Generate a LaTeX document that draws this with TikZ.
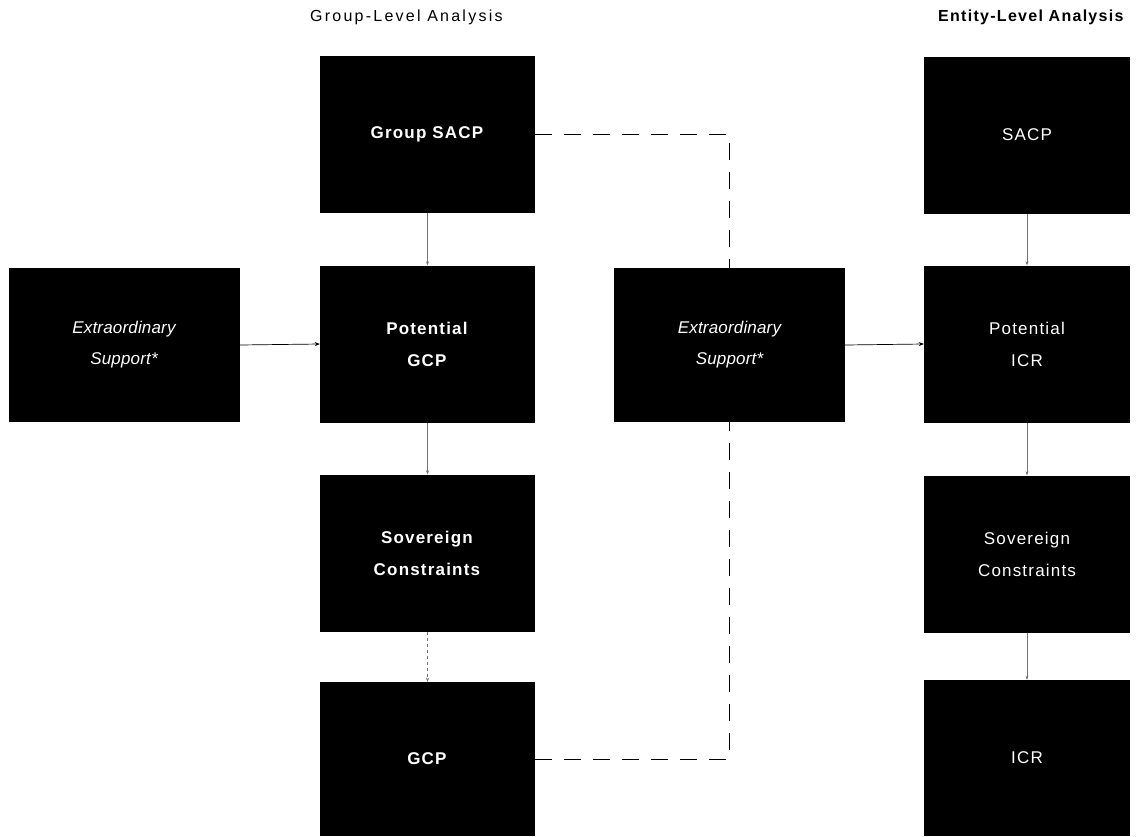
\documentclass[tikz,border=0pt]{standalone}
\usepackage{fontspec}
\setmainfont{Liberation Sans}
\newfontfamily\boxfont[LetterSpace=7]{Liberation Sans}
\newfontfamily\esfont[LetterSpace=1]{Liberation Sans}
\newfontfamily\hdrfont[LetterSpace=14]{Liberation Sans}
\newfontfamily\hdrbfont[LetterSpace=8]{Liberation Sans}
\usetikzlibrary{arrows.meta}
\begin{document}
\begin{tikzpicture}[x=1pt,y=-1pt,
  box/.style={fill=black,draw=none,text=white,inner sep=0pt,align=center,font=\boxfont\fontsize{17}{32}\selectfont},
  lbox/.style={box,minimum width=215pt,minimum height=157pt},
  rbox/.style={box,minimum width=206pt,minimum height=157pt},
  esbox/.style={box,minimum width=231pt,minimum height=154pt,font=\esfont\fontsize{17}{31}\selectfont\itshape},
  hdr/.style={font=\hdrfont\fontsize{16}{18}\selectfont,anchor=west,inner sep=0pt},
  conn/.style={line width=0.7pt,-{Stealth[length=5pt,width=4pt]}},
  dconn/.style={line width=0.7pt,dash pattern=on 17pt off 12pt},
  vconn/.style={line width=0.5pt,black!55,-{Stealth[length=4pt,width=3pt]}}
]
\useasboundingbox (0,0) rectangle (1136,836);
\node[hdr] (h1) at (310,17) {Group-Level Analysis};
\node[hdr,font=\hdrbfont\fontsize{16}{18}\selectfont\bfseries] (h2) at (938,17) {Entity-Level Analysis};

\node[lbox] (gsacp) at (427.5,134) {\textbf{Group SACP}};
\node[lbox] (pgcp) at (427.5,344) {\textbf{Potential}\\\textbf{GCP}};
\node[lbox] (gsov) at (427.5,553) {\textbf{Sovereign}\\\textbf{Constraints}};
\node[lbox,minimum height=154pt] (gcp) at (427.5,759) {\textbf{GCP}};

\node[esbox] (es1) at (124,345) {Extraordinary\\Support*};
\node[esbox] (es2) at (729.5,345) {Extraordinary\\Support*};

\node[rbox] (sacp) at (1027,135) {SACP};
\node[rbox] (picr) at (1027,344) {Potential\\ICR};
\node[rbox] (rsov) at (1027,554) {Sovereign\\Constraints};
\node[rbox,minimum height=156pt] (icr) at (1027,758) {ICR};

\draw[conn] (es1.east) -- (pgcp.west);
\draw[conn] (es2.east) -- (picr.west);

\draw[dconn] (gsacp.east) -| (es2.north);
\draw[dconn] (gcp.east) -| (es2.south);

\draw[vconn] (gsacp.south) -- (pgcp.north);
\draw[vconn] (pgcp.south) -- (gsov.north);
\draw[vconn,dashed] (gsov.south) -- (gcp.north);
\draw[vconn] (sacp.south) -- (picr.north);
\draw[vconn] (picr.south) -- (rsov.north);
\draw[vconn] (rsov.south) -- (icr.north);
\end{tikzpicture}
\end{document}
